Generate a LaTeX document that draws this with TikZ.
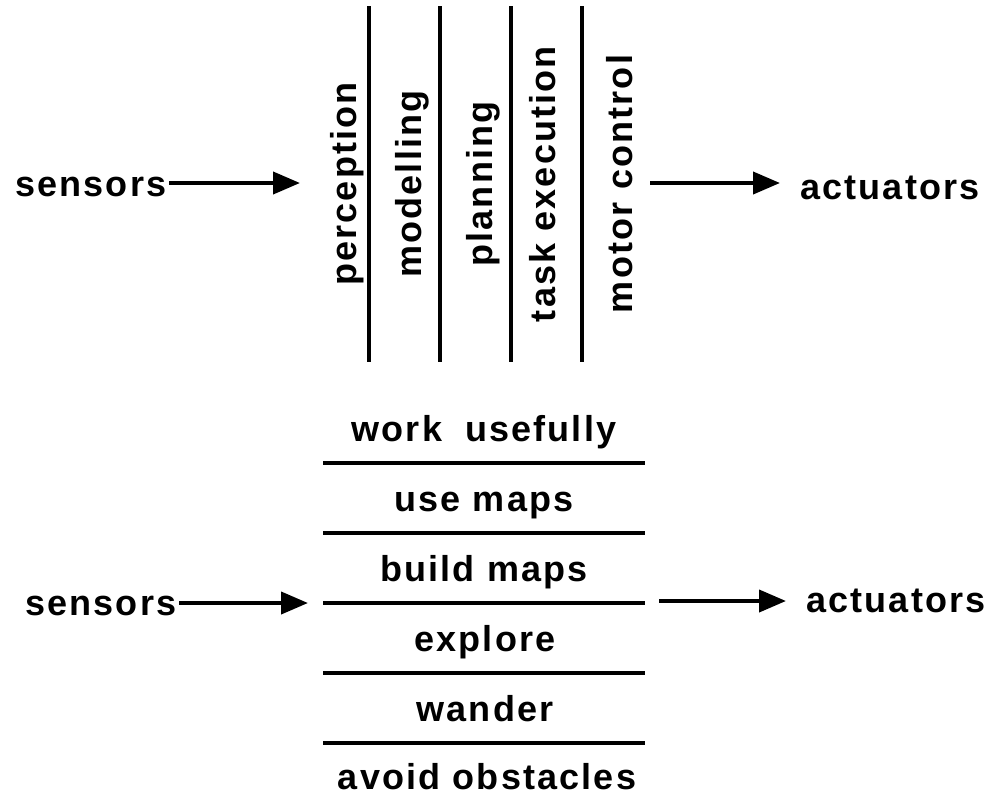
\documentclass[tikz,border=0pt]{standalone}
\usepackage{fontspec}
\setmainfont{Liberation Sans}[LetterSpace=6]
\usetikzlibrary{arrows.meta}
\begin{document}
\begin{tikzpicture}[x=1pt,y=-1pt,
  lbl/.style={inner sep=0pt, font=\fontsize{36}{42}\selectfont\bfseries},
  layer/.style={lbl, rotate=90, anchor=base},
  rule/.style={line width=4pt},
  arr/.style={line width=4pt, -{Triangle[length=27pt,width=22pt]}}]
\useasboundingbox (0,0) rectangle (1008,795);
% ---------- top: horizontal decomposition ----------
\node[lbl, anchor=base west] (s1) at (15,196) {sensors};
\node[lbl, anchor=base west] (a1) at (800,199) {actuators};
\coordinate (s1tip) at (300,183);
\coordinate (a1start) at (650,183);
\draw[arr] ([xshift=3pt]s1.east |- s1tip) -- (s1tip);
\draw[arr] (a1start) -- ([xshift=-20pt]a1.west |- a1start);
\node[layer] (per) at (356,184) {perception};
\node[layer] (mod) at (421,184) {modelling};
\node[layer] (pla) at (492,184) {planning};
\node[layer] (tas) at (555,184) {task execution};
\node[layer] (mot) at (632,184) {motor\hspace{0.35em}control};
\foreach \x/\n in {369/v1,440/v2,511/v3,582/v4}{
  \coordinate (\n t) at (\x,6);
  \coordinate (\n b) at (\x,362);
  \draw[rule] (\n t) -- (\n b);
}
% ---------- bottom: vertical decomposition ----------
\node[lbl, anchor=base west] (s2) at (25,615) {sensors};
\node[lbl, anchor=base west] (a2) at (806,612) {actuators};
\coordinate (s2tip) at (308,603);
\coordinate (a2start) at (659,601);
\draw[arr] ([xshift=3pt]s2.east |- s2tip) -- (s2tip);
\draw[arr] (a2start) -- ([xshift=-20pt]a2.west |- a2start);
\node[lbl, anchor=base] (wu) at (484,441) {work\hspace{0.3em} usefully};
\node[lbl, anchor=base] (um) at (484,511) {use maps};
\node[lbl, anchor=base] (bm) at (484,581) {build maps};
\node[lbl, anchor=base] (ex) at (485,651) {explore};
\node[lbl, anchor=base] (wa) at (485,721) {wander};
\node[lbl, anchor=base] (ao) at (487,789) {avoid obstacles};
\foreach \y/\n in {463/h1,533/h2,603/h3,673/h4,743/h5}{
  \coordinate (\n l) at (323,\y);
  \coordinate (\n r) at (645,\y);
  \draw[rule] (\n l) -- (\n r);
}
\end{tikzpicture}
\end{document}
